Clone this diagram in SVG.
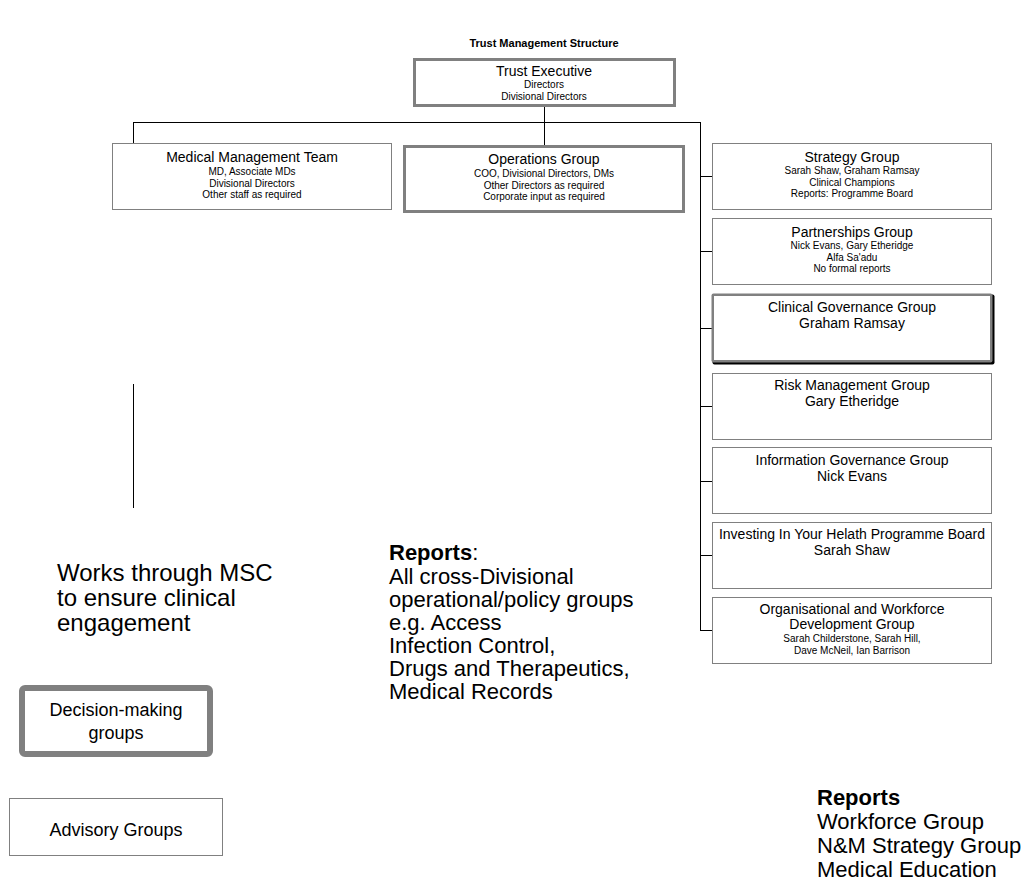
<svg xmlns="http://www.w3.org/2000/svg" width="1024" height="886" viewBox="0 0 1024 886">
  <style>
    text { font-family: "Liberation Sans", Arial, sans-serif; fill: #000; }
    .t { font-size: 14px; text-anchor: middle; }
    .s { font-size: 10px; text-anchor: middle; }
    .big { font-size: 22px; }
    .note { font-size: 24px; }
    .legend { font-size: 18px; text-anchor: middle; }
    .box { fill: #fff; stroke: #808080; stroke-width: 1; }
    .dec { fill: #fff; stroke: #808080; stroke-width: 3; }
    .conn { fill: none; stroke: #000; stroke-width: 1; }
  </style>
  <rect width="1024" height="886" fill="#fff"/>

  <text x="544" y="47" font-size="11" font-weight="bold" text-anchor="middle">Trust Management Structure</text>

  <!-- connectors -->
  <g id="connectors" class="conn">
    <path d="M544.5,106 V122.5"/>
    <path d="M133,122.5 H700.5"/>
    <path d="M133.5,122 V143"/>
    <path d="M544.5,122 V146"/>
    <path d="M700.5,122 V630.5"/>
    <path d="M700,176.5 H712"/>
    <path d="M700,251.5 H712"/>
    <path d="M700,328.5 H712"/>
    <path d="M700,406.5 H712"/>
    <path d="M700,481.5 H712"/>
    <path d="M700,555.5 H712"/>
    <path d="M700,630.5 H712"/>
    <path d="M133.5,384 V508"/>
  </g>

  <g id="trust-executive">
    <rect class="dec" x="414.5" y="59.5" width="260" height="46"/>
    <text class="t" x="544" y="76">Trust Executive</text>
    <text class="s" x="544" y="88">Directors</text>
    <text class="s" x="544" y="99.5">Divisional Directors</text>
  </g>

  <g id="medical-management-team">
    <rect class="box" x="112.5" y="143.5" width="279" height="66"/>
    <text class="t" x="252" y="162">Medical Management Team</text>
    <text class="s" x="252" y="175">MD, Associate MDs</text>
    <text class="s" x="252" y="186.5">Divisional Directors</text>
    <text class="s" x="252" y="198">Other staff as required</text>
  </g>

  <g id="operations-group">
    <rect class="dec" x="404.5" y="146.5" width="279" height="65"/>
    <text class="t" x="544" y="164">Operations Group</text>
    <text class="s" x="544" y="177">COO, Divisional Directors, DMs</text>
    <text class="s" x="544" y="188.5">Other Directors as required</text>
    <text class="s" x="544" y="200">Corporate input as required</text>
  </g>

  <g id="strategy-group">
    <rect class="box" x="712.5" y="143.5" width="279" height="66"/>
    <text class="t" x="852" y="162">Strategy Group</text>
    <text class="s" x="852" y="174">Sarah Shaw, Graham Ramsay</text>
    <text class="s" x="852" y="185.5">Clinical Champions</text>
    <text class="s" x="852" y="197">Reports: Programme Board</text>
  </g>

  <g id="partnerships-group">
    <rect class="box" x="712.5" y="218.5" width="279" height="66"/>
    <text class="t" x="852" y="237">Partnerships Group</text>
    <text class="s" x="852" y="249">Nick Evans, Gary Etheridge</text>
    <text class="s" x="852" y="260.5">Alfa Sa'adu</text>
    <text class="s" x="852" y="272">No formal reports</text>
  </g>

  <g id="clinical-governance-group">
    <rect x="712.5" y="294.5" width="282" height="70" rx="2" fill="#000"/>
    <rect x="711.5" y="293.5" width="281" height="69" rx="2" fill="#808080"/>
    <rect x="714" y="296" width="276" height="64" fill="#fff"/>
    <text class="t" x="852" y="312">Clinical Governance Group</text>
    <text class="t" x="852" y="328">Graham Ramsay</text>
  </g>

  <g id="risk-management-group">
    <rect class="box" x="712.5" y="373.5" width="279" height="66"/>
    <text class="t" x="852" y="390">Risk Management Group</text>
    <text class="t" x="852" y="406">Gary Etheridge</text>
  </g>

  <g id="information-governance-group">
    <rect class="box" x="712.5" y="447.5" width="279" height="66"/>
    <text class="t" x="852" y="465">Information Governance Group</text>
    <text class="t" x="852" y="481">Nick Evans</text>
  </g>

  <g id="investing-programme-board">
    <rect class="box" x="712.5" y="522.5" width="279" height="66"/>
    <text class="t" x="852" y="539">Investing In Your Helath Programme Board</text>
    <text class="t" x="852" y="555">Sarah Shaw</text>
  </g>

  <g id="organisational-workforce-group">
    <rect class="box" x="712.5" y="597.5" width="279" height="66"/>
    <text class="t" x="852" y="614">Organisational and Workforce</text>
    <text class="t" x="852" y="629">Development Group</text>
    <text class="s" x="852" y="642">Sarah Childerstone, Sarah Hill,</text>
    <text class="s" x="852" y="654">Dave McNeil, Ian Barrison</text>
  </g>

  <g id="msc-note">
    <text class="note" x="57" y="581">Works through MSC</text>
    <text class="note" x="57" y="606">to ensure clinical</text>
    <text class="note" x="57" y="631">engagement</text>
  </g>

  <g id="reports-note">
    <text class="big" x="389" y="560"><tspan font-weight="bold">Reports</tspan>:</text>
    <text class="big" x="389" y="584">All cross-Divisional</text>
    <text class="big" x="389" y="607">operational/policy groups</text>
    <text class="big" x="389" y="630">e.g. Access</text>
    <text class="big" x="389" y="653">Infection Control,</text>
    <text class="big" x="389" y="676">Drugs and Therapeutics,</text>
    <text class="big" x="389" y="699">Medical Records</text>
  </g>

  <g id="legend-decision">
    <rect x="22" y="688" width="188" height="66" rx="3" fill="#fff" stroke="#808080" stroke-width="6"/>
    <text class="legend" x="116" y="716">Decision-making</text>
    <text class="legend" x="116" y="739">groups</text>
  </g>

  <g id="legend-advisory">
    <rect class="box" x="9.5" y="798.5" width="213" height="57"/>
    <text class="legend" x="116" y="836">Advisory Groups</text>
  </g>

  <g id="reports-bottom">
    <text class="big" x="817" y="805" font-weight="bold">Reports</text>
    <text class="big" x="817" y="829">Workforce Group</text>
    <text class="big" x="817" y="853">N&amp;M Strategy Group</text>
    <text class="big" x="817" y="877">Medical Education</text>
  </g>
</svg>
